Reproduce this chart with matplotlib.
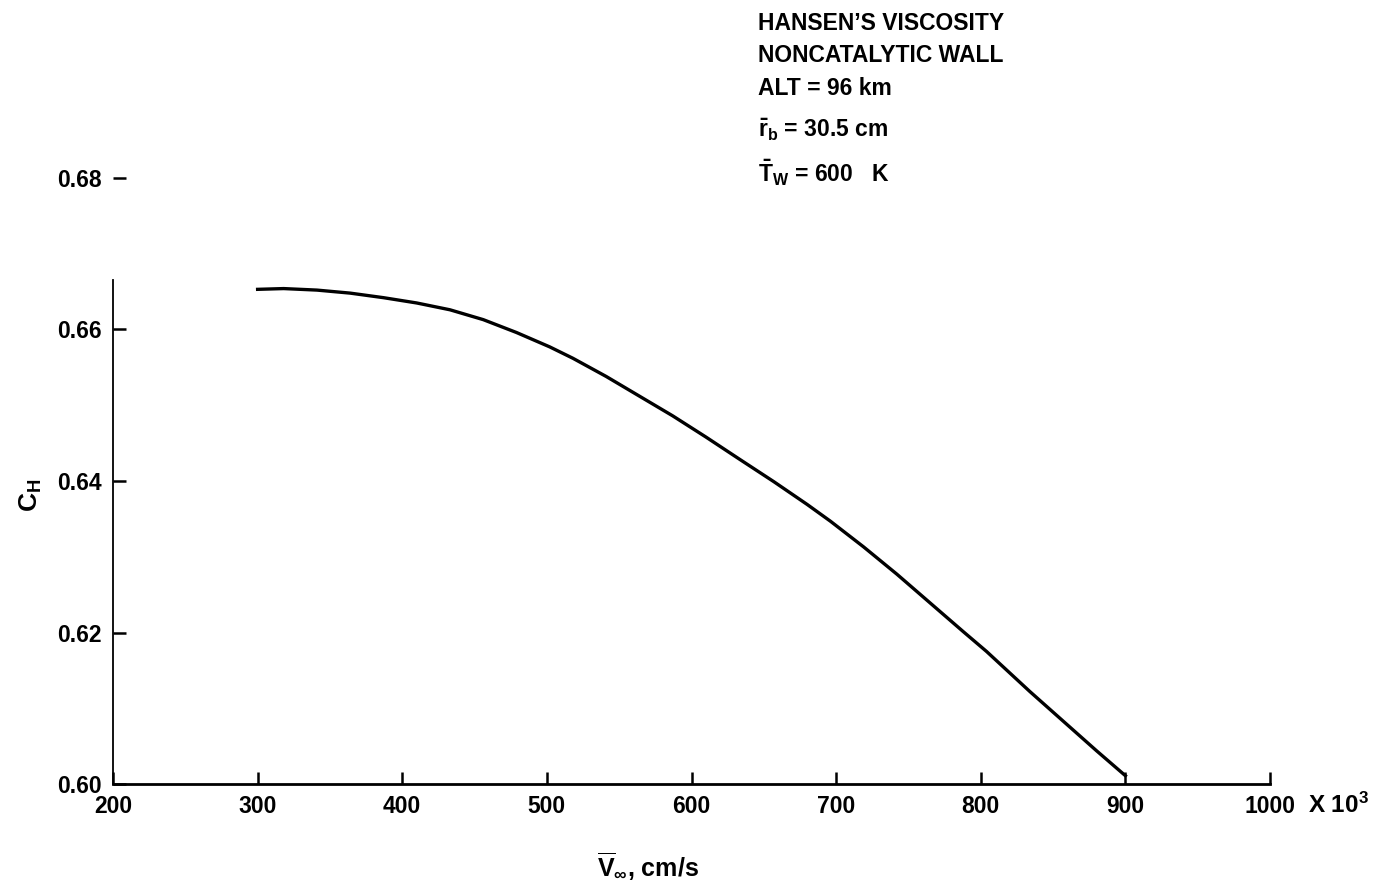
import matplotlib
matplotlib.use('Agg')
import matplotlib.pyplot as plt

plt.rcParams['font.family'] = ['Liberation Sans', 'DejaVu Sans']
plt.rcParams['font.weight'] = 'bold'
plt.rcParams['mathtext.fontset'] = 'custom'
plt.rcParams['mathtext.rm'] = 'Liberation Sans:bold'
plt.rcParams['mathtext.bf'] = 'Liberation Sans:bold'
plt.rcParams['mathtext.it'] = 'Liberation Sans:bold'

# velocity (x 10^3 cm/s) and heat-transfer coefficient
velocity = [300, 318, 341, 364, 387, 410, 433, 456, 479, 502, 518, 541,
            564, 587, 610, 633, 657, 680, 696, 719, 742, 765, 788, 804,
            834, 857, 880, 900]
c_h = [0.6653, 0.6654, 0.6652, 0.6648, 0.6642, 0.6635, 0.6626, 0.6613,
       0.6596, 0.6577, 0.6562, 0.6538, 0.6512, 0.6486, 0.6458, 0.6429,
       0.6399, 0.6369, 0.6347, 0.6313, 0.6277, 0.6239, 0.6201, 0.6175,
       0.6122, 0.6083, 0.6044, 0.6011]

x_ticks = [200, 300, 400, 500, 600, 700, 800, 900, 1000]
y_ticks = [0.60, 0.62, 0.64, 0.66, 0.68]

notes = ["HANSEN\u2019S VISCOSITY", "NONCATALYTIC WALL", "ALT = 96 km",
         r"$\mathbf{\bar{r}_b}$ = 30.5 cm", r"$\mathbf{\bar{T}_W}$ = 600   K"]
note_y = [0.974, 0.937, 0.900, 0.853, 0.805]

fig = plt.figure(figsize=(13.83, 8.85), dpi=100)
ax = fig.add_axes([0.0817, 0.1141, 0.8366, 0.6848])

ax.plot(velocity, c_h, color='black', lw=2.4)

ax.set_xlim(200, 1000)
ax.set_ylim(0.60, 0.68)
ax.set_xticks(x_ticks)
ax.set_xticklabels([str(v) for v in x_ticks])
ax.set_yticks(y_ticks)
ax.set_yticklabels(['%.2f' % v for v in y_ticks])

for s in ['top', 'right']:
    ax.spines[s].set_visible(False)
ax.spines['left'].set_bounds(0.60, 0.6665)
ax.spines['left'].set_linewidth(1.3)
ax.spines['bottom'].set_linewidth(2.0)

ax.tick_params(axis='both', direction='in', length=9, width=1.8,
               labelsize=16.5, color='black')
ax.tick_params(axis='y', pad=8)
ax.tick_params(axis='x', pad=8)
for lab in ax.get_xticklabels() + ax.get_yticklabels():
    lab.set_fontweight('bold')

fig.text(0.946, 0.090, r'X 10$^\mathbf{3}$', ha='left', va='center',
         fontsize=17.5, fontweight='bold')
fig.text(0.432, 0.022, r'$\mathbf{\overline{V}_\infty}$, cm/s', ha='left',
         va='center', fontsize=18, fontweight='bold')
fig.text(0.022, 0.44, r'$\mathbf{C_H}$', rotation=90, ha='center',
         va='center', fontsize=19, fontweight='bold')

for t, yy in zip(notes, note_y):
    fig.text(0.548, yy, t, ha='left', va='center', fontsize=16.5,
             fontweight='bold')

fig.savefig('out.png', dpi=100, facecolor='white')
